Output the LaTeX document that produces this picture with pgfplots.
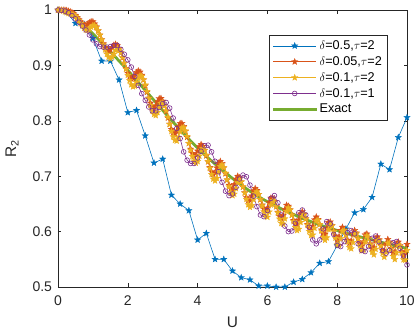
\documentclass[border=0pt]{standalone}
\usepackage{fontspec}
\setmainfont{Liberation Sans}
\usepackage{pgfplots}
\usepackage{pgfplotstable}
\pgfplotsset{compat=1.18}
\definecolor{mblue}{rgb}{0,0.447,0.741}
\definecolor{morange}{rgb}{0.85,0.325,0.098}
\definecolor{myellow}{rgb}{0.929,0.694,0.125}
\definecolor{mpurple}{rgb}{0.494,0.184,0.556}
\definecolor{mgreen}{rgb}{0.466,0.674,0.188}
\definecolor{axgray}{rgb}{0.15,0.15,0.15}

\pgfdeclareplotmark{fstar}{%
 \pgfpathmoveto{\pgfpointpolar{90}{\pgfplotmarksize}}%
 \pgfpathlineto{\pgfpointpolar{126}{0.42\pgfplotmarksize}}%
 \pgfpathlineto{\pgfpointpolar{162}{\pgfplotmarksize}}%
 \pgfpathlineto{\pgfpointpolar{198}{0.42\pgfplotmarksize}}%
 \pgfpathlineto{\pgfpointpolar{234}{\pgfplotmarksize}}%
 \pgfpathlineto{\pgfpointpolar{270}{0.42\pgfplotmarksize}}%
 \pgfpathlineto{\pgfpointpolar{306}{\pgfplotmarksize}}%
 \pgfpathlineto{\pgfpointpolar{342}{0.42\pgfplotmarksize}}%
 \pgfpathlineto{\pgfpointpolar{18}{\pgfplotmarksize}}%
 \pgfpathlineto{\pgfpointpolar{54}{0.42\pgfplotmarksize}}%
 \pgfpathclose
 \pgfusepathqfillstroke}

\pgfplotstableread{
U R
0 1.000
0.25 0.996
0.5 0.976
0.75 0.974
1.0 0.949
1.25 0.908
1.5 0.908
1.75 0.874
2.0 0.815
2.25 0.819
2.5 0.773
2.75 0.724
3.0 0.731
3.25 0.666
3.5 0.650
3.75 0.638
4.0 0.585
4.25 0.597
4.5 0.550
4.75 0.550
5.0 0.529
5.25 0.517
5.5 0.513
5.75 0.502
6.0 0.502
6.25 0.500
6.5 0.500
6.75 0.509
7.0 0.514
7.25 0.526
7.5 0.543
7.75 0.546
8.0 0.575
8.25 0.605
8.5 0.634
8.75 0.640
9.0 0.662
9.25 0.722
9.5 0.712
9.75 0.770
10.0 0.806
}\tblblue

\pgfplotstableread{
U O Y
0.00 1.0000 1.0000
0.05 0.9999 0.9998
0.10 0.9998 0.9992
0.15 0.9997 0.9982
0.20 0.9996 0.9968
0.25 0.9992 0.9955
0.30 0.9980 0.9940
0.35 0.9970 0.9933
0.40 0.9955 0.9924
0.45 0.9933 0.9909
0.50 0.9905 0.9886
0.55 0.9867 0.9850
0.60 0.9827 0.9809
0.65 0.9787 0.9761
0.70 0.9752 0.9716
0.75 0.9731 0.9675
0.80 0.9728 0.9641
0.85 0.9745 0.9636
0.90 0.9772 0.9658
0.95 0.9791 0.9693
1.00 0.9790 0.9723
1.05 0.9751 0.9721
1.10 0.9697 0.9684
1.15 0.9627 0.9625
1.20 0.9549 0.9550
1.25 0.9467 0.9463
1.30 0.9392 0.9370
1.35 0.9327 0.9284
1.40 0.9279 0.9205
1.45 0.9258 0.9150
1.50 0.9280 0.9123
1.55 0.9321 0.9153
1.60 0.9365 0.9205
1.65 0.9383 0.9272
1.70 0.9358 0.9304
1.75 0.9305 0.9283
1.80 0.9228 0.9228
1.85 0.9138 0.9145
1.90 0.9041 0.9042
1.95 0.8944 0.8934
2.00 0.8860 0.8825
2.05 0.8794 0.8727
2.10 0.8757 0.8654
2.15 0.8766 0.8616
2.20 0.8812 0.8629
2.25 0.8873 0.8695
2.30 0.8902 0.8770
2.35 0.8882 0.8816
2.40 0.8824 0.8804
2.45 0.8739 0.8742
2.50 0.8634 0.8648
2.55 0.8519 0.8530
2.60 0.8412 0.8403
2.65 0.8321 0.8280
2.70 0.8257 0.8183
2.75 0.8233 0.8117
2.80 0.8274 0.8097
2.85 0.8344 0.8154
2.90 0.8400 0.8239
2.95 0.8406 0.8316
3.00 0.8357 0.8326
3.05 0.8277 0.8274
3.10 0.8170 0.8185
3.15 0.8053 0.8067
3.20 0.7942 0.7937
3.25 0.7848 0.7811
3.30 0.7786 0.7713
3.35 0.7766 0.7650
3.40 0.7818 0.7637
3.45 0.7894 0.7703
3.50 0.7952 0.7802
3.55 0.7954 0.7873
3.60 0.7899 0.7878
3.65 0.7813 0.7818
3.70 0.7706 0.7721
3.75 0.7593 0.7596
3.80 0.7490 0.7473
3.85 0.7413 0.7359
3.90 0.7367 0.7278
3.95 0.7384 0.7237
4.00 0.7456 0.7268
4.05 0.7535 0.7366
4.10 0.7573 0.7468
4.15 0.7543 0.7502
4.20 0.7472 0.7466
4.25 0.7371 0.7382
4.30 0.7263 0.7270
4.35 0.7160 0.7146
4.40 0.7082 0.7034
4.45 0.7038 0.6950
4.50 0.7063 0.6917
4.55 0.7151 0.6964
4.60 0.7237 0.7074
4.65 0.7269 0.7176
4.70 0.7231 0.7206
4.75 0.7152 0.7156
4.80 0.7046 0.7058
4.85 0.6935 0.6936
4.90 0.6839 0.6810
4.95 0.6778 0.6708
5.00 0.6774 0.6651
5.05 0.6853 0.6679
5.10 0.6948 0.6778
5.15 0.7000 0.6886
5.20 0.6972 0.6936
5.25 0.6899 0.6897
5.30 0.6806 0.6811
5.35 0.6704 0.6697
5.40 0.6615 0.6584
5.45 0.6563 0.6488
5.50 0.6567 0.6440
5.55 0.6644 0.6472
5.60 0.6736 0.6578
5.65 0.6779 0.6690
5.70 0.6747 0.6722
5.75 0.6674 0.6673
5.80 0.6577 0.6581
5.85 0.6482 0.6467
5.90 0.6411 0.6361
5.95 0.6380 0.6288
6.00 0.6426 0.6262
6.05 0.6527 0.6356
6.10 0.6605 0.6483
6.15 0.6606 0.6561
6.20 0.6547 0.6536
6.25 0.6452 0.6457
6.30 0.6352 0.6341
6.35 0.6275 0.6229
6.40 0.6241 0.6151
6.45 0.6292 0.6138
6.50 0.6401 0.6233
6.55 0.6477 0.6366
6.60 0.6460 0.6432
6.65 0.6395 0.6392
6.70 0.6300 0.6300
6.75 0.6205 0.6183
6.80 0.6141 0.6080
6.85 0.6130 0.6021
6.90 0.6211 0.6046
6.95 0.6319 0.6169
7.00 0.6360 0.6286
7.05 0.6319 0.6303
7.10 0.6233 0.6232
7.15 0.6133 0.6119
7.20 0.6055 0.6007
7.25 0.6031 0.5932
7.30 0.6099 0.5941
7.35 0.6214 0.6063
7.40 0.6265 0.6192
7.45 0.6220 0.6206
7.50 0.6131 0.6131
7.55 0.6031 0.6012
7.60 0.5963 0.5901
7.65 0.5956 0.5845
7.70 0.6056 0.5890
7.75 0.6164 0.6040
7.80 0.6175 0.6134
7.85 0.6110 0.6104
7.90 0.6013 0.6004
7.95 0.5923 0.5885
8.00 0.5851 0.5766
8.05 0.5903 0.5753
8.10 0.6024 0.5872
8.15 0.6080 0.6008
8.20 0.6035 0.6021
8.25 0.5943 0.5938
8.30 0.5846 0.5814
8.35 0.5793 0.5716
8.40 0.5832 0.5692
8.45 0.5957 0.5805
8.50 0.6022 0.5951
8.55 0.5976 0.5962
8.60 0.5879 0.5873
8.65 0.5784 0.5745
8.70 0.5742 0.5654
8.75 0.5819 0.5666
8.80 0.5943 0.5815
8.85 0.5960 0.5924
8.90 0.5886 0.5879
8.95 0.5783 0.5762
9.00 0.5697 0.5634
9.05 0.5712 0.5583
9.10 0.5836 0.5684
9.15 0.5907 0.5837
9.20 0.5856 0.5843
9.25 0.5753 0.5739
9.30 0.5664 0.5610
9.35 0.5657 0.5541
9.40 0.5781 0.5628
9.45 0.5860 0.5791
9.50 0.5808 0.5794
9.55 0.5701 0.5685
9.60 0.5618 0.5556
9.65 0.5627 0.5499
9.70 0.5763 0.5617
9.75 0.5813 0.5766
9.80 0.5746 0.5735
9.85 0.5637 0.5611
9.90 0.5572 0.5493
9.95 0.5636 0.5488
10.00 0.5772 0.5660
}\tbloy

\pgfplotstableread{
U R
0.0 1.000
0.1 0.9995
0.2 0.998
0.3 0.995
0.4 0.990
0.5 0.984
0.6 0.978
0.7 0.971
0.8 0.964
0.9 0.955
1.0 0.946
1.1 0.939
1.2 0.934
1.3 0.933
1.4 0.933
1.5 0.934
1.6 0.936
1.7 0.936
1.8 0.929
1.9 0.920
2.0 0.910
2.1 0.897
2.2 0.880
2.3 0.864
2.4 0.849
2.5 0.837
2.6 0.825
2.7 0.818
2.8 0.818
2.9 0.824
3.0 0.831
3.1 0.833
3.2 0.823
3.3 0.805
3.4 0.786
3.5 0.768
3.6 0.744
3.7 0.729
3.8 0.723
3.9 0.723
4.0 0.733
4.1 0.745
4.2 0.755
4.3 0.756
4.4 0.744
4.5 0.727
4.6 0.708
4.7 0.689
4.8 0.673
4.9 0.665
5.0 0.668
5.1 0.680
5.2 0.695
5.3 0.702
5.4 0.699
5.5 0.684
5.6 0.664
5.7 0.645
5.8 0.630
5.9 0.627
6.0 0.638
6.1 0.660
6.2 0.665
6.3 0.652
6.4 0.630
6.5 0.610
6.6 0.600
6.7 0.601
6.8 0.615
6.9 0.634
7.0 0.639
7.1 0.630
7.2 0.608
7.3 0.585
7.4 0.578
7.5 0.585
7.6 0.605
7.7 0.618
7.8 0.614
7.9 0.595
8.0 0.575
8.1 0.573
8.2 0.582
8.3 0.598
8.4 0.602
8.5 0.596
8.6 0.578
8.7 0.566
8.8 0.564
8.9 0.573
9.0 0.588
9.1 0.592
9.2 0.582
9.3 0.566
9.4 0.561
9.5 0.566
9.6 0.580
9.7 0.582
9.8 0.570
9.9 0.556
10.0 0.540
}\tblpurple

\pgfplotstableread{
U R
0.00 1.000
0.25 0.996
0.50 0.986
0.75 0.973
1.00 0.957
1.25 0.941
1.50 0.925
1.75 0.908
2.00 0.891
2.25 0.873
2.50 0.855
2.75 0.837
3.00 0.819
3.25 0.801
3.50 0.784
3.75 0.767
4.00 0.751
4.25 0.736
4.50 0.722
4.75 0.709
5.00 0.696
5.25 0.684
5.50 0.673
5.75 0.663
6.00 0.654
6.25 0.646
6.50 0.638
6.75 0.631
7.00 0.624
7.25 0.618
7.50 0.612
7.75 0.607
8.00 0.602
8.25 0.597
8.50 0.593
8.75 0.589
9.00 0.585
9.25 0.581
9.50 0.577
9.75 0.573
10.00 0.570
}\tblexact

\begin{document}
\begin{tikzpicture}
\path[use as bounding box] (-58pt,-45pt) rectangle (357pt,287pt);
\begin{axis}[
  at={(0pt,0pt)}, anchor=south west,
  scale only axis, width=349pt, height=277pt,
  xmin=0, xmax=10, ymin=0.5, ymax=1,
  xtick={0,2,4,6,8,10}, xticklabels={0,2,4,6,8,10},
  ytick={0.5,0.6,0.7,0.8,0.9,1}, yticklabels={0.5,0.6,0.7,0.8,0.9,1},
  tick align=inside, xtick pos=both, ytick pos=both,
  major tick length=3.5pt,
  axis line style={draw=axgray, line width=0.5pt},
  tick style={draw=axgray, line width=0.5pt},
  /pgf/number format/assume math mode=true,
  ticklabel style={font=\fontsize{14}{16}\selectfont, text=axgray},
  xticklabel style={yshift=-5pt},
  yticklabel style={xshift=-2.5pt},
  xlabel={U}, ylabel={R\textsubscript{2}},
  label style={font=\fontsize{15.4}{18}\selectfont, text=axgray},
  xlabel style={at={(axis description cs:0.5,-0.148)}, anchor=base},
  ylabel style={at={(axis description cs:-0.1203,0.5)}, anchor=base},
  clip=false,
  legend cell align=left,
  legend style={at={(0.943,0.910)}, anchor=north east, draw=axgray, line width=0.5pt,
    font=\fontsize{12.7}{15}\selectfont, text=black, inner xsep=3pt, inner ysep=3.5pt,
    row sep=1.5pt},
  legend image code/.code={\draw[mark repeat=2,mark phase=2,#1] plot coordinates {(0pt,0pt) (21.5pt,0pt) (43pt,0pt)};},
]
\addplot[mblue, line width=0.6pt, mark=fstar, mark size=3.3pt, mark options={fill=mblue, draw=mblue, line width=0.3pt, solid}] table[x=U,y=R] {\tblblue};
\addlegendentry{$\delta$=0.5,$\tau$=2}
\addplot[morange, line width=0.6pt, mark=fstar, mark size=3.3pt, mark options={fill=morange, draw=morange, line width=0.3pt, solid}] table[x=U,y=O] {\tbloy};
\addlegendentry{$\delta$=0.05,$\tau$=2}
\addplot[myellow, line width=0.6pt, mark=fstar, mark size=3.3pt, mark options={fill=myellow, draw=myellow, line width=0.3pt, solid}] table[x=U,y=Y] {\tbloy};
\addlegendentry{$\delta$=0.1,$\tau$=2}
\addplot[mpurple, line width=0.6pt, mark=o, mark size=2.4pt, mark options={draw=mpurple, line width=0.6pt, solid}] table[x=U,y=R] {\tblpurple};
\addlegendentry{$\delta$=0.1,$\tau$=1}
\addplot[mgreen, line width=2.8pt, smooth] table[x=U,y=R] {\tblexact};
\addlegendentry{Exact}
\end{axis}
\end{tikzpicture}
\end{document}
